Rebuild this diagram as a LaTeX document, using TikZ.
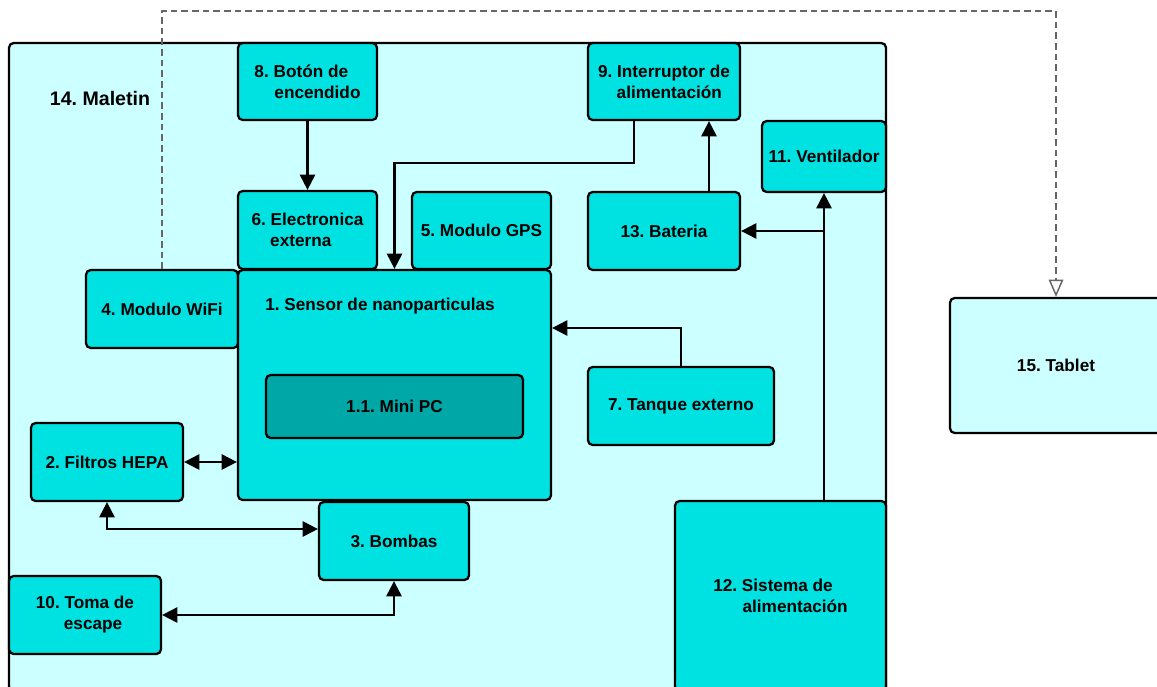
\documentclass[tikz,border=0pt]{standalone}
\usepackage{fontspec}
\setmainfont{Liberation Sans}[BoldFont={Liberation Sans Bold}]
\usetikzlibrary{arrows.meta,calc}
\definecolor{malc}{HTML}{CCFFFF}
\definecolor{boxc}{HTML}{00E2E2}
\definecolor{pcc}{HTML}{00A7A7}
\definecolor{dashc}{HTML}{666666}
\tikzset{
  box/.style={draw=black, fill=boxc, rounded corners=3.5pt, line width=1.7pt, inner sep=0pt, align=left,
     font=\fontsize{12.9}{15.75}\selectfont\bfseries\frenchspacing},
  lbl/.style={inner sep=0pt, font=\fontsize{12.9}{15.75}\selectfont\bfseries\frenchspacing},
  arr/.style={line width=1.6pt, -{Triangle[length=11.5pt,width=11.5pt]}},
  darr/.style={line width=1.6pt, {Triangle[length=11.5pt,width=11.5pt]}-{Triangle[length=11.5pt,width=11.5pt]}},
  dashlink/.style={draw=dashc, line width=1.1pt, dash pattern=on 5pt off 3pt,
     -{Triangle[open,length=13pt,width=11pt,fill=white]}}
}
\begin{document}
\begin{tikzpicture}[x=0.75pt,y=-0.75pt]
\useasboundingbox (0,0) rectangle (1157,686);
\clip (0,0) rectangle (1157,686);
\fill[white] (0,0) rectangle (1157,686);
% Maletin
\node[box, fill=malc, minimum width=657.75pt, minimum height=486pt] (mal) at (447.5,367) {};
\node[lbl, font=\fontsize{14.7}{17}\selectfont\bfseries\frenchspacing] (tmal) at (100,98) {14. Maletin};
% boxes
\node[box, minimum width=104.25pt, minimum height=57.75pt] (n8) at (307.5,81.5) {8. Botón de\\\hspace*{15pt}encendido};
\node[box, minimum width=114pt, minimum height=57.75pt] (n9) at (664,81.5) {9. Interruptor de\\\hspace*{14pt}alimentación};
\node[box, minimum width=93pt, minimum height=53.25pt] (n11) at (824,156.5) {11. Ventilador};
\node[box, minimum width=104.25pt, minimum height=58.5pt] (n6) at (307.5,230) {6. Electronica\\\hspace*{14pt}externa};
\node[box, minimum width=104.25pt, minimum height=57.75pt] (n5) at (481.5,230.5) {5. Modulo GPS};
\node[box, minimum width=114pt, minimum height=58.5pt] (n13) at (664,231) {13. Bateria};
\node[box, minimum width=114pt, minimum height=58.5pt] (n4) at (162,309) {4. Modulo WiFi};
\node[box, minimum width=234.75pt, minimum height=172.5pt] (n1) at (394.5,385) {};
\node[lbl] (t1) at (380,306) {1. Sensor de nanoparticulas};
\node[box, fill=pcc, minimum width=192.75pt, minimum height=47.25pt] (pc) at (394.5,406.5) {1.1. Mini PC};
\node[box, minimum width=139.5pt, minimum height=58.5pt] (n7) at (681,406) {7. Tanque externo};
\node[box, minimum width=114pt, minimum height=58.5pt] (n2) at (107,462) {2. Filtros HEPA};
\node[box, minimum width=112.5pt, minimum height=58.5pt] (n3) at (394,541) {3. Bombas};
\node[box, minimum width=114pt, minimum height=58.5pt] (n10) at (85,615) {10. Toma de\\\hspace*{21pt}escape};
\node[box, minimum width=158.25pt, minimum height=142.5pt] (n12) at (780.5,596) {12. Sistema de\\\hspace*{22pt}alimentación};
\node[box, fill=malc, minimum width=159pt, minimum height=101.25pt] (n15) at (1056,365.5) {15. Tablet};
% connectors
\draw[arr] (n8.south) -- (n6.north);
\draw[arr] ($(n9.south)+(-30,0)$) -- ++(0,42) -| (n1.north);
\draw[arr] ($(n13.north)+(45,0)$) -- ($(n9.south)+(45,0)$);
\draw[arr] (n11.south |- n12.north) -- (n11.south);
\draw[arr] (n11.south |- n13.east) -- (n13.east);
\draw[arr] (n7.north) |- ($(n1.east)+(0,-57)$);
\draw[darr] (n2.east) -- (n2.east -| n1.west);
\draw[darr] (n2.south) |- ($(n3.west)+(0,-12)$);
\draw[darr] (n10.east) -| (n3.south);
\coordinate (dtop) at (0,11);
\draw[dashlink] (n4.north) -- (n4.north |- dtop) -| (n15.north);
\end{tikzpicture}
\end{document}
